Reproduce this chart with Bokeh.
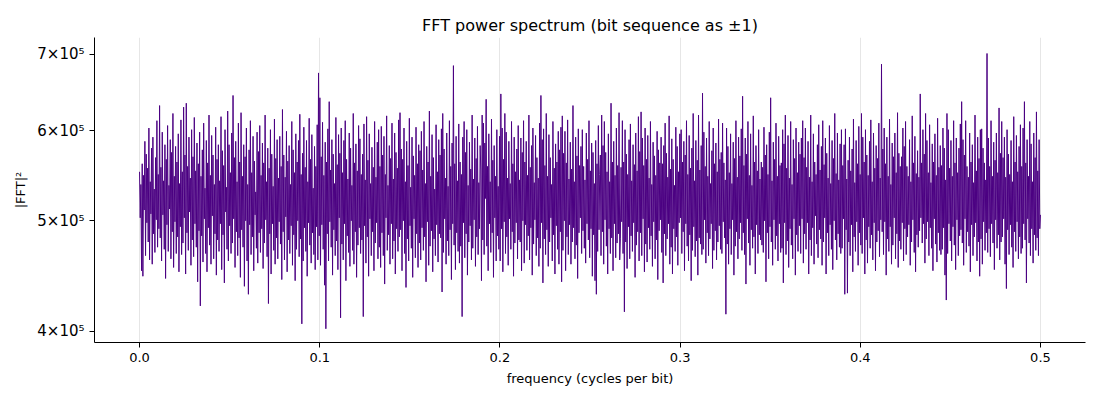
import numpy as np
from bokeh.plotting import figure
from bokeh.models import Range1d, FixedTicker
from bokeh.embed import file_html
from bokeh.resources import INLINE

# power values (in units of 1e3) left to right
power_k = [
    552, 503, 538, 452, 561, 447, 548, 511, 587, 466, 572, 498, 556, 479, 603, 462, 541, 507, 579, 458, 592, 487, 533, 469, 568, 501, 612, 474, 549, 492,
    631, 483, 557, 461, 598, 506, 542, 472, 583, 445, 566, 496, 606, 470, 537, 512, 589, 463, 574, 489, 621, 455, 547, 499, 581, 468, 563, 484, 596, 451,
    539, 494, 613, 467, 552, 478, 629, 503, 571, 449, 634, 488, 558, 471, 592, 509, 545, 457, 601, 481, 569, 465, 616, 497, 553, 474, 585, 442, 561, 490,
    598, 421, 547, 485, 577, 460, 609, 502, 534, 468, 588, 451, 562, 493, 619, 476, 548, 458, 594, 505, 571, 463, 538, 487, 604, 448, 566, 481, 583, 470,
    542, 497, 617, 453, 576, 486, 559, 441, 601, 509, 535, 472, 624, 461, 583, 495, 551, 468, 597, 478, 644, 502, 568, 455, 587, 489, 541, 466, 609, 483,
    563, 446, 622, 491, 547, 474, 583, 438, 569, 500, 603, 461, 538, 431, 577, 496, 612, 467, 551, 484, 593, 452, 564, 506, 530, 473, 598, 459, 575, 488,
    606, 469, 548, 492, 585, 454, 562, 478, 619, 501, 541, 465, 579, 423, 556, 487, 601, 449, 572, 497, 536, 471, 614, 458, 567, 483, 589, 463, 545, 499,
    593, 477, 558, 444, 626, 489, 571, 462, 546, 504, 599, 451, 564, 481, 582, 468, 538, 495, 611, 457, 577, 486, 551, 443, 596, 472, 563, 500, 588, 465,
    620, 482, 549, 406, 573, 461, 604, 493, 557, 470, 588, 447, 541, 498, 615, 476, 566, 459, 595, 488, 534, 467, 581, 453, 558, 494, 607, 462, 674, 485,
    641, 457, 569, 496, 610, 472, 548, 439, 586, 402, 563, 487, 602, 461, 636, 499, 554, 474, 589, 448, 572, 491, 539, 466, 616, 480, 560, 453, 595, 503,
    573, 411, 603, 477, 551, 462, 588, 497, 612, 443, 566, 485, 544, 469, 597, 456, 579, 500, 537, 471, 621, 458, 562, 489, 584, 446, 553, 476, 606, 493,
    590, 468, 549, 481, 572, 412, 608, 495, 543, 459, 617, 484, 565, 447, 596, 502, 539, 466, 580, 489, 557, 452, 611, 478, 546, 498, 586, 463, 601, 474,
    558, 455, 605, 488, 571, 466, 593, 440, 549, 503, 618, 471, 537, 486, 582, 458, 567, 497, 609, 463, 544, 480, 597, 449, 574, 492, 556, 470, 613, 484,
    622, 491, 578, 452, 566, 500, 603, 468, 541, 437, 587, 482, 559, 461, 615, 495, 535, 473, 592, 446, 570, 502, 548, 464, 604, 487, 561, 455, 583, 478,
    576, 462, 599, 493, 554, 471, 611, 484, 539, 442, 581, 499, 563, 457, 624, 475, 547, 490, 595, 451, 568, 482, 533, 466, 607, 496, 552, 460, 589, 487,
    571, 483, 602, 433, 621, 469, 578, 502, 545, 458, 597, 480, 536, 466, 612, 491, 558, 444, 585, 497, 684, 476, 561, 453, 593, 488, 542, 470, 608, 459,
    563, 475, 549, 412, 592, 498, 611, 464, 574, 487, 601, 448, 537, 479, 586, 495, 555, 462, 619, 473, 544, 501, 591, 456, 567, 484, 605, 467, 540, 492,
    582, 554, 443, 619, 481, 609, 467, 585, 523, 639, 475, 558, 452, 596, 497, 541, 469, 614, 488, 565, 446, 582, 503, 547, 461, 601, 485, 536, 472, 593,
    461, 646, 492, 603, 451, 566, 499, 621, 468, 598, 484, 545, 457, 587, 502, 539, 472, 611, 489, 561, 447, 592, 478, 552, 498, 578, 463, 606, 481, 543,
    479, 591, 452, 574, 500, 612, 459, 563, 496, 587, 471, 548, 485, 619, 462, 557, 493, 582, 448, 603, 477, 540, 501, 594, 466, 568, 483, 545, 456, 609,
    473, 644, 498, 589, 441, 602, 482, 559, 467, 621, 491, 547, 456, 595, 479, 568, 503, 538, 461, 611, 486, 556, 449, 584, 495, 563, 472, 599, 458, 577,
    489, 604, 442, 618, 471, 573, 500, 599, 452, 562, 484, 613, 467, 544, 496, 586, 458, 555, 479, 631, 493, 541, 463, 592, 476, 570, 445, 602, 488, 559,
    503, 581, 468, 601, 490, 558, 473, 543, 459, 597, 497, 566, 481, 612, 464, 553, 492, 585, 447, 574, 486, 539, 443, 588, 431, 561, 470, 606, 491, 549,
    571, 466, 619, 489, 582, 458, 611, 501, 574, 475, 552, 449, 596, 492, 541, 468, 634, 483, 563, 452, 587, 497, 548, 464, 603, 478, 559, 487, 622, 462,
    482, 557, 499, 612, 468, 563, 416, 601, 479, 572, 454, 549, 494, 589, 463, 608, 485, 542, 470, 583, 498, 560, 446, 597, 476, 553, 489, 617, 461, 575,
    488, 623, 466, 591, 502, 559, 451, 603, 477, 566, 460, 594, 493, 545, 472, 611, 485, 538, 456, 586, 499, 570, 463, 548, 481, 599, 444, 577, 490, 562,
    501, 592, 469, 561, 441, 582, 487, 609, 466, 573, 482, 546, 497, 618, 458, 555, 474, 590, 449, 566, 492, 537, 470, 604, 484, 581, 457, 552, 498, 596,
    503, 601, 468, 563, 489, 587, 452, 571, 497, 612, 475, 549, 461, 594, 486, 556, 443, 579, 471, 621, 494, 542, 465, 588, 480, 565, 448, 619, 483, 554,
    477, 582, 467, 647, 472, 598, 501, 558, 459, 591, 488, 547, 466, 611, 482, 539, 497, 576, 454, 603, 471, 561, 490, 585, 462, 552, 479, 614, 495, 566,
    472, 574, 468, 609, 499, 562, 483, 543, 414, 603, 477, 581, 458, 551, 492, 596, 467, 539, 501, 586, 448, 567, 475, 612, 489, 546, 463, 592, 482, 570,
    498, 602, 471, 643, 488, 559, 467, 591, 440, 572, 502, 611, 478, 548, 457, 596, 491, 537, 473, 618, 484, 563, 449, 582, 496, 553, 468, 601, 486, 544,
    481, 563, 476, 557, 469, 604, 500, 571, 442, 583, 488, 549, 463, 598, 494, 641, 479, 542, 457, 586, 501, 566, 472, 609, 485, 547, 461, 593, 497, 559,
    469, 562, 473, 601, 441, 584, 498, 619, 467, 556, 480, 594, 455, 545, 492, 611, 476, 538, 463, 589, 502, 567, 448, 603, 486, 551, 470, 586, 495, 572,
    468, 591, 502, 612, 459, 568, 487, 603, 472, 557, 498, 587, 449, 546, 481, 619, 466, 541, 493, 596, 458, 563, 505, 549, 477, 583, 464, 607, 491, 554,
    482, 581, 457, 612, 479, 560, 503, 591, 449, 573, 488, 545, 466, 606, 496, 539, 472, 588, 453, 567, 500, 621, 481, 550, 462, 597, 487, 543, 474, 584,
    468, 601, 473, 559, 502, 583, 431, 602, 491, 544, 432, 565, 479, 592, 466, 553, 496, 578, 451, 614, 484, 540, 470, 588, 499, 561, 457, 605, 488, 549,
    476, 621, 468, 592, 503, 563, 449, 601, 481, 571, 459, 548, 494, 587, 473, 613, 486, 541, 462, 597, 498, 556, 452, 582, 479, 567, 490, 609, 465, 545,
    501, 686, 489, 578, 467, 603, 499, 561, 448, 592, 482, 547, 470, 614, 494, 538, 458, 585, 476, 569, 503, 597, 463, 551, 487, 622, 455, 573, 480, 558,
    472, 569, 498, 603, 461, 581, 492, 611, 467, 558, 484, 547, 496, 589, 457, 541, 479, 618, 501, 562, 469, 593, 451, 550, 486, 576, 474, 546, 490, 646,
    503, 562, 478, 601, 497, 572, 459, 621, 482, 588, 499, 551, 466, 607, 493, 540, 473, 584, 452, 563, 502, 596, 477, 548, 460, 615, 488, 557, 471, 582,
    467, 559, 472, 603, 493, 579, 448, 543, 426, 621, 468, 601, 497, 556, 480, 588, 461, 547, 494, 612, 476, 562, 453, 591, 501, 551, 466, 579, 485, 608,
    491, 636, 478, 589, 457, 571, 502, 612, 469, 558, 489, 546, 475, 597, 451, 563, 496, 583, 466, 540, 484, 619, 498, 553, 461, 592, 479, 567, 447, 601,
    482, 602, 458, 579, 499, 562, 471, 543, 488, 701, 469, 591, 492, 558, 465, 612, 497, 547, 478, 586, 453, 565, 501, 597, 473, 551, 486, 628, 462, 573,
    479, 611, 484, 568, 502, 592, 458, 546, 436, 601, 491, 572, 467, 549, 496, 588, 474, 541, 455, 617, 489, 563, 470, 594, 499, 552, 463, 581, 484, 607,
    468, 558, 473, 603, 497, 636, 481, 562, 441, 589, 502, 547, 478, 611, 466, 584, 492, 541, 459, 597, 486, 568, 471, 623, 483, 553, 466, 589, 492, 506,
]
freq_max = 0.5
x_ticks = [0.0, 0.1, 0.2, 0.3, 0.4, 0.5]
x_tick_labels = ["0.0", "0.1", "0.2", "0.3", "0.4", "0.5"]
y_ticks = [4e5, 5e5, 6e5, 7e5]
y_tick_labels = ["4×10⁵", "5×10⁵", "6×10⁵", "7×10⁵"]

power = np.array(power_k, dtype=float) * 1000.0
freq = np.linspace(0.0, freq_max, len(power))

p = figure(width=1092, height=392, y_axis_type="log",
           output_backend="svg", toolbar_location=None,
           x_range=Range1d(-0.025, 0.525), y_range=Range1d(3.91e5, 7.24e5),
           min_border_left=94, min_border_right=7, min_border_top=37,
           min_border_bottom=50)

p.line(freq, power, color="#4B0082", line_width=1.0)

p.title.text = "FFT power spectrum (bit sequence as ±1)"
p.title.align = "center"
p.title.text_font = "DejaVu Sans"
p.title.text_font_size = "16px"
p.title.text_font_style = "normal"
p.title.text_color = "black"
p.title.offset = 0
p.title.standoff = 6

p.xaxis.axis_label = "frequency (cycles per bit)"
p.yaxis.axis_label = "|FFT|²"
for ax in (p.xaxis, p.yaxis):
    ax.axis_label_text_font = "DejaVu Sans"
    ax.axis_label_text_font_size = "13px"
    ax.axis_label_text_font_style = "normal"
    ax.axis_label_text_color = "black"
    ax.major_label_text_font = "DejaVu Sans"
    ax.major_label_text_font_size = "13px"
    ax.major_label_text_color = "black"
    ax.axis_line_color = "black"
    ax.major_tick_line_color = "black"
    ax.major_tick_out = 5
    ax.major_tick_in = 0
    ax.minor_tick_out = 0
    ax.minor_tick_in = 0

p.yaxis.major_label_text_font_size = "15px"
p.xaxis.ticker = FixedTicker(ticks=x_ticks)
p.xaxis.major_label_overrides = dict(zip(x_ticks, x_tick_labels))
p.yaxis.ticker = FixedTicker(ticks=y_ticks)
p.yaxis.major_label_overrides = dict(zip(y_ticks, y_tick_labels))
p.xaxis.axis_label_standoff = 6
p.yaxis.axis_label_standoff = 6

p.xgrid.grid_line_color = "#e6e6e6"
p.xgrid.grid_line_width = 1
p.ygrid.grid_line_color = None
p.outline_line_color = None

open("out.html", "w").write(file_html(p, INLINE))
